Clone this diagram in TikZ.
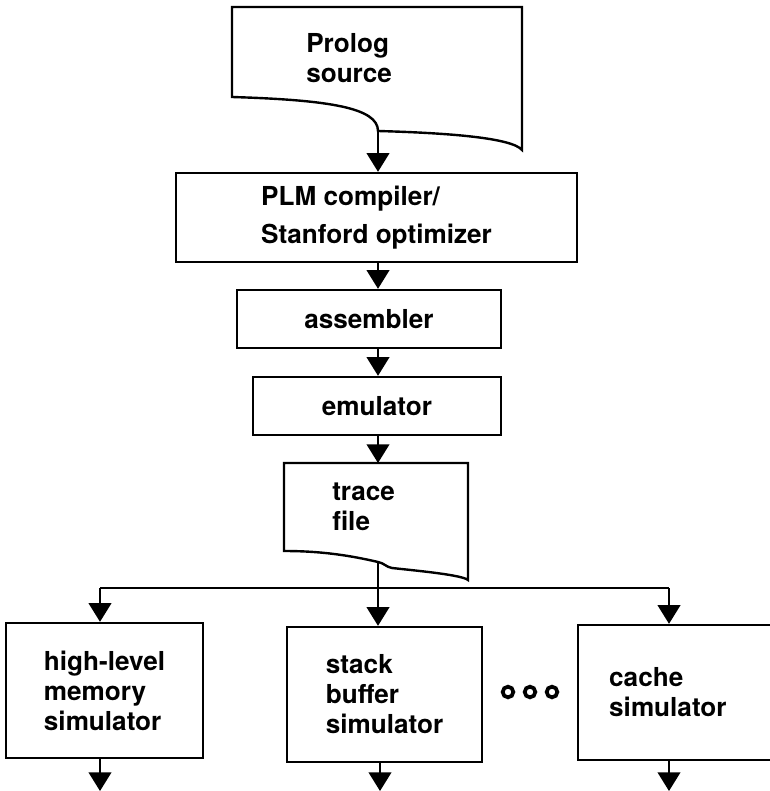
\documentclass[tikz,border=0pt]{standalone}
\usepackage{fontspec}
\setmainfont{TeX Gyre Heros}
\usetikzlibrary{arrows.meta, positioning, calc}

\begin{document}
\begin{tikzpicture}[
  x=0.75pt, y=-0.75pt,
  every node/.style={font=\bfseries\fontsize{19.6}{22.5}\selectfont},
  procnode/.style={rectangle, draw, line width=1.8pt, align=left, inner sep=0pt},
  simnode/.style={procnode, minimum width=147.75pt, minimum height=101.25pt},
  doctext/.style={anchor=west, align=left, inner sep=0pt},
  docline/.style={line width=1.8pt, line join=miter},
  dotnode/.style={circle, draw, line width=2.8pt, minimum size=8pt, inner sep=0pt},
  flow/.style={line width=1.4pt, -{Triangle[width=17pt, length=14pt]}},
]
\useasboundingbox (0,0) rectangle (769,791);

% source document with wavy bottom edge
\draw[docline] (232,7) -- (522,7) -- (522,150)
  .. controls (512,138) and (450,133) .. (378,131) coordinate (srcout)
  .. controls (378,108) and (330,100) .. (232,97) -- cycle;
\node[doctext] (src) at (306,58) {Prolog\\source};

% tool chain
\node[procnode, minimum width=300.75pt, minimum height=66.75pt,
      font=\bfseries\fontsize{19.6}{28}\selectfont] (plm) at (376.5,217.5)
      {PLM compiler/\\Stanford optimizer};
\node[procnode, minimum width=198pt, minimum height=43.5pt] (asm) at (369,319) {assembler};
\node[procnode, minimum width=186pt, minimum height=43.5pt] (emu) at (377,406) {emulator};

% trace document
\draw[docline] (284,463) -- (378,463) coordinate (tracein) -- (468,463) -- (468,580)
  .. controls (462,575) and (420,571) .. (392,568)
  .. controls (386,567) and (384,563) .. (378,562) coordinate (traceout)
  .. controls (340,553) and (310,551) .. (284,551) -- cycle;
\node[doctext] (trace) at (332,507) {trace\\file};

% simulators
\node[simnode] (hlm) at (104.5,690.5) {high-level\\memory\\simulator};
\node[simnode, minimum width=146.25pt] (stk) at (384.5,694.5) {stack\\buffer\\simulator};
\node[procnode, anchor=west, minimum height=101.25pt, inner xsep=23.25pt,
      text width=112.5pt] (cache) at (577,692.5) {cache\\simulator};
\foreach \dx [count=\i] in {508,530,552}
  \node[dotnode] (dot\i) at (\dx,692) {};

% connectors
\coordinate (spine) at (378,0);
\coordinate (hlmin) at (100,588);
\coordinate (cachein) at (669,588);
\coordinate (hlmout) at (100,791);
\coordinate (stkout) at (380,791);
\coordinate (cacheout) at (669,791);

\draw[flow] (srcout) -- (srcout |- plm.north);
\draw[flow] (spine |- plm.south) -- (spine |- asm.north);
\draw[flow] (spine |- asm.south) -- (spine |- emu.north);
\draw[flow] (spine |- emu.south) -- (tracein);
\draw[flow] (traceout) -- (traceout |- stk.north);
\draw[line width=1.4pt] (hlmin) -- (cachein);
\draw[flow] (hlmin) -- (hlmin |- hlm.north);
\draw[flow] (cachein) -- (cachein |- cache.north);
\draw[flow] (hlmout |- hlm.south) -- (hlmout);
\draw[flow] (stkout |- stk.south) -- (stkout);
\draw[flow] (cacheout |- cache.south) -- (cacheout);
\end{tikzpicture}
\end{document}
